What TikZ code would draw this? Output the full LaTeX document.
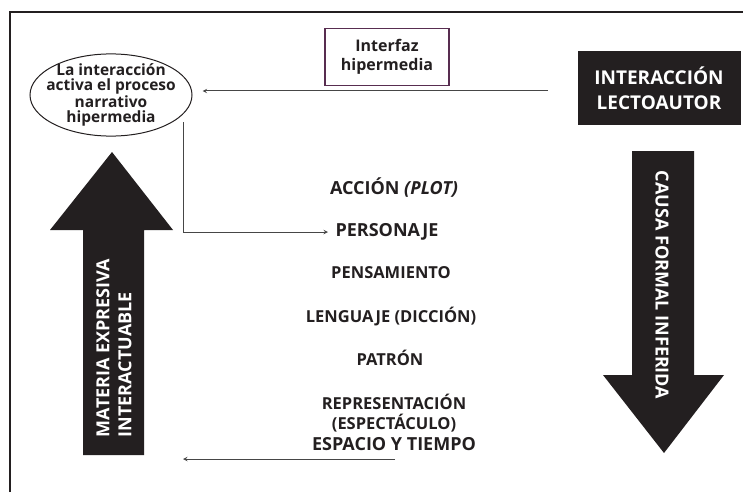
\documentclass[tikz,border=0pt]{standalone}
\usepackage{fontspec}
\setmainfont{Open Sans}
\usetikzlibrary{shapes.geometric, arrows}
\definecolor{negro}{RGB}{35,31,32}
\definecolor{morado}{RGB}{88,45,80}
\definecolor{linea}{RGB}{70,70,70}

\begin{document}
\begin{tikzpicture}[x=1pt, y=-1pt,
    % Styles des noeuds
    proceso/.style={ellipse, draw=linea, line width=1pt, inner xsep=-14pt, inner ysep=-2pt,
                    minimum width=162pt, minimum height=80pt, align=center,
                    font=\bfseries\fontsize{15.5}{15}\selectfont, color=negro},
    interfaz/.style={rectangle, draw=morado, line width=1.3pt, minimum width=124pt,
                     minimum height=57pt, align=center,
                     font=\bfseries\fontsize{16}{19}\selectfont, text=negro},
    lectoautor/.style={rectangle, fill=negro, text=white, minimum width=163pt,
                       minimum height=73pt, align=center,
                       font=\bfseries\fontsize{19}{25}\selectfont},
    nivel/.style={align=center, font=\bfseries\fontsize{16.5}{20.5}\selectfont, color=negro},
    fuerte/.style={nivel, font=\bfseries\fontsize{18}{20.5}\selectfont},
    flechatexto/.style={text=white, align=left, font=\bfseries\fontsize{18}{22}\selectfont},
    % Style des fleches
    arrow/.style={->, >=stealth, line width=1pt, color=linea}
]
\useasboundingbox (0,0) rectangle (743,492);

% marco
\draw[line width=1.2pt, color=negro] (10,492) -- (10,12) -- (743,12);

% ==========================================
% FLECHAS GRANDES
% ==========================================
\fill[negro] (112,152) -- (173,230) -- (144,230) -- (144,455) -- (83,455)
             -- (83,230) -- (50,230) -- cycle;
\node[flechatexto, rotate=90] (materia) at (114,348) {MATERIA EXPRESIVA\\INTERACTUABLE};

\fill[negro] (632,151) -- (694,151) -- (694,375) -- (724,375) -- (664,453)
             -- (603,375) -- (632,375) -- cycle;
\node[flechatexto, rotate=-90] (causa) at (662,285) {CAUSA FORMAL INFERIDA};

% ==========================================
% NODOS SUPERIORES
% ==========================================
\node[proceso] (proceso) at (111,95) {La interacción\\activa el proceso\\narrativo\\hipermedia};
\node[interfaz] (interfaz) at (387,57) {Interfaz\\hipermedia};
\node[lectoautor] (lectoautor) at (659,88) {INTERACCIÓN\\LECTOAUTOR};

% ==========================================
% NIVELES
% ==========================================
\node[fuerte] (accion) at (394,188) {ACCIÓN \textit{(PLOT)}};
\node[fuerte] (personaje) at (387,232) {PERSONAJE};
\node[nivel] (pensamiento) at (391,273) {PENSAMIENTO};
\node[nivel] (lenguaje) at (391,317) {LENGUAJE (DICCIÓN)};
\node[nivel] (patron) at (390,358) {PATRÓN};
\node[nivel] (representacion) at (394,422) {REPRESENTACIÓN\\(ESPECTÁCULO)\\{\fontsize{18}{20.5}\selectfont ESPACIO Y TIEMPO}};

% Flechas
\coordinate (desde) at (548,91);
\coordinate (bajada) at (183,122);
\coordinate (abajo) at (395,459);
\coordinate (izq) at (183,459);
\draw[arrow, shorten >=10pt] (desde) -- (proceso.east |- desde);
\draw[arrow, shorten >=4pt] (bajada) |- (personaje.west);
\draw[arrow] (abajo) -- (izq);

\end{tikzpicture}
\end{document}
